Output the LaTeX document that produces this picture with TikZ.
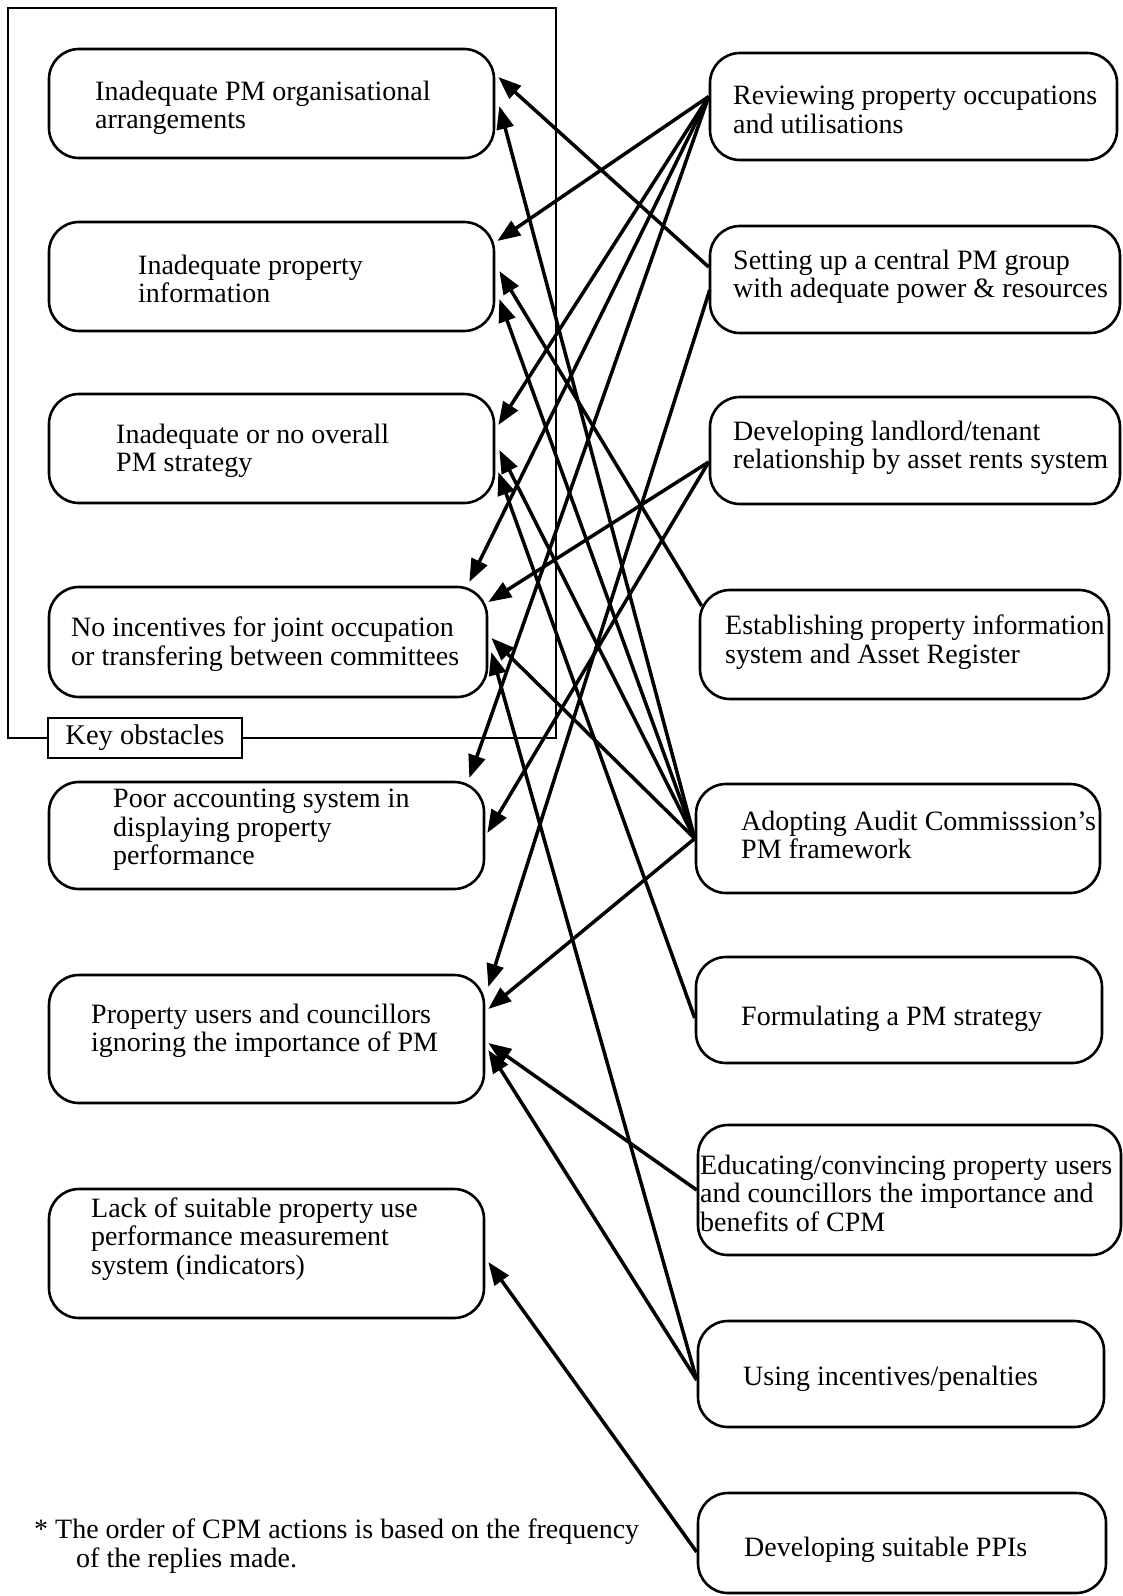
\documentclass[tikz,border=0pt]{standalone}
\usepackage{fontspec}
\setmainfont{Liberation Serif}
\usetikzlibrary{arrows.meta,calc}
\begin{document}
\begin{tikzpicture}[x=1pt,y=-1pt,
  box/.style={draw, line width=2.6pt, rounded corners=30pt, inner sep=0pt},
  lbl/.style={anchor=west, align=left, inner sep=0pt, font=\fontsize{28}{28.5}\selectfont},
  link/.style={line width=3.5pt, -{Triangle[length=23pt,width=17pt]}},
]
\useasboundingbox (0,0) rectangle (1123,1596);
\fill[white] (0,0) rectangle (1123,1596);

% frame around the key obstacles
\node[draw, line width=2.3pt, minimum width=548pt, minimum height=730pt, inner sep=0pt] (frame) at (282,373) {};
\node[draw, fill=white, line width=2.3pt, minimum width=194pt, minimum height=40pt, inner sep=0pt,
      font=\fontsize{28.5}{28.5}\selectfont] (key) at (145,738) {Key obstacles};

% obstacles (left column)
\node[box, minimum width=445pt, minimum height=109pt] (l1) at (271.5,103.5) {};
\node[box, minimum width=445pt, minimum height=109pt] (l2) at (271.5,276.5) {};
\node[box, minimum width=445pt, minimum height=109pt] (l3) at (271.5,448.5) {};
\node[box, minimum width=438pt, minimum height=110pt] (l4) at (268,642) {};
\node[box, minimum width=435pt, minimum height=107pt] (l5) at (266.5,835.5) {};
\node[box, minimum width=435pt, minimum height=128pt] (l6) at (266.5,1039) {};
\node[box, minimum width=435pt, minimum height=129pt] (l7) at (266.5,1253.5) {};

\node[lbl] (tl1) at (95,108) {Inadequate PM organisational\\arrangements};
\node[lbl] (tl2) at (138,279) {Inadequate property\\information};
\node[lbl] (tl3) at (116,451) {Inadequate or no overall\\PM strategy};
\node[lbl] (tl4) at (71,644) {No incentives for joint occupation\\or transfering between committees};
\node[lbl] (tl5) at (113,830) {Poor accounting system in\\displaying property\\performance};
\node[lbl] (tl6) at (91,1031) {Property users and councillors\\ignoring the importance of PM};
\node[lbl] (tl7) at (91,1239) {Lack of suitable property use\\performance measurement\\system (indicators)};

% CPM actions (right column)
\node[box, minimum width=407pt, minimum height=107pt] (r1) at (913.5,106.5) {};
\node[box, minimum width=410pt, minimum height=107pt] (r2) at (915,279.5) {};
\node[box, minimum width=410pt, minimum height=107pt] (r3) at (915,450.5) {};
\node[box, minimum width=409pt, minimum height=109pt] (r4) at (904.5,644.5) {};
\node[box, minimum width=404pt, minimum height=109pt] (r5) at (898,838.5) {};
\node[box, minimum width=406pt, minimum height=106pt] (r6) at (899,1010) {};
\node[box, minimum width=423pt, minimum height=130pt] (r7) at (909.5,1190) {};
\node[box, minimum width=406pt, minimum height=106pt] (r8) at (901,1374) {};
\node[box, minimum width=408pt, minimum height=100pt] (r9) at (902,1543) {};

\node[lbl] (tr1) at (733,110) {Reviewing property occupations\\and utilisations};
\node[lbl] (tr2) at (733,277) {Setting up a central PM group\\with adequate power \& resources};
\node[lbl] (tr3) at (733,448) {Developing landlord/tenant\\relationship by asset rents system};
\node[lbl] (tr4) at (725,642) {Establishing property information\\system and Asset Register};
\node[lbl] (tr5) at (741,835) {Adopting Audit Commisssion's\\PM framework};
\node[lbl] (tr6) at (741,1019) {Formulating a PM strategy};
\node[lbl] (tr7) at (700,1193) {Educating/convincing property users\\and councillors the importance and\\benefits of CPM};
\node[lbl] (tr8) at (743,1379) {Using incentives/penalties};
\node[lbl] (tr9) at (744,1550) {Developing suitable PPIs};

% footnote
\node[lbl] (note) at (34,1546) {* The order of CPM actions is based on the frequency\\\hspace*{42pt}of the replies made.};

% links from actions to obstacles
\draw[link] ([shift={(0,-10)}]r1.west) -- ([shift={(2,-35.5)}]l2.east);
\draw[link] ([shift={(0,-10)}]r1.west) -- ([shift={(3,-23.5)}]l3.east);
\draw[link] ([shift={(0,-10)}]r1.west) -- ([shift={(-19,-60)}]l4.east);
\draw[link] ([shift={(0,-10)}]r1.west) -- ([shift={(-16,-57.5)}]l5.east);

\draw[link] ([shift={(0,-12.5)}]r2.west) -- ([shift={(3,-26.5)}]l1.east);
\draw[link] ([shift={(1,10.5)}]r2.west) -- ([shift={(3,-52)}]l6.east);

\draw[link] ([shift={(0,11.5)}]r3.west) -- ([shift={(0,-40)}]l4.east);
\draw[link] ([shift={(0,11.5)}]r3.west) -- ([shift={(2,-2.5)}]l5.east);

\draw[link] ([shift={(3,-38.5)}]r4.west) -- ([shift={(4,-5.5)}]l2.east);

\draw[link] (r5.west) -- ([shift={(4,2.5)}]l1.east);
\draw[link] (r5.west) -- ([shift={(4,22.5)}]l2.east);
\draw[link] (r5.west) -- ([shift={(4,1.5)}]l3.east);
\draw[link] (r5.west) -- ([shift={(3,-4)}]l4.east);
\draw[link] (r5.west) -- ([shift={(3,-30)}]l6.east);

\draw[link] ([shift={(0,8)}]r6.west) -- ([shift={(3,23.5)}]l3.east);

\draw[link] (r7.west) -- ([shift={(3,4)}]l6.east);

\draw[link] ([shift={(0,6)}]r8.west) -- ([shift={(3,11)}]l6.east);
\draw[link] ([shift={(0,6)}]r8.west) -- ([shift={(3,10)}]l4.east);

\draw[link] ([shift={(0,9)}]r9.west) -- ([shift={(3,8.5)}]l7.east);
\end{tikzpicture}
\end{document}
